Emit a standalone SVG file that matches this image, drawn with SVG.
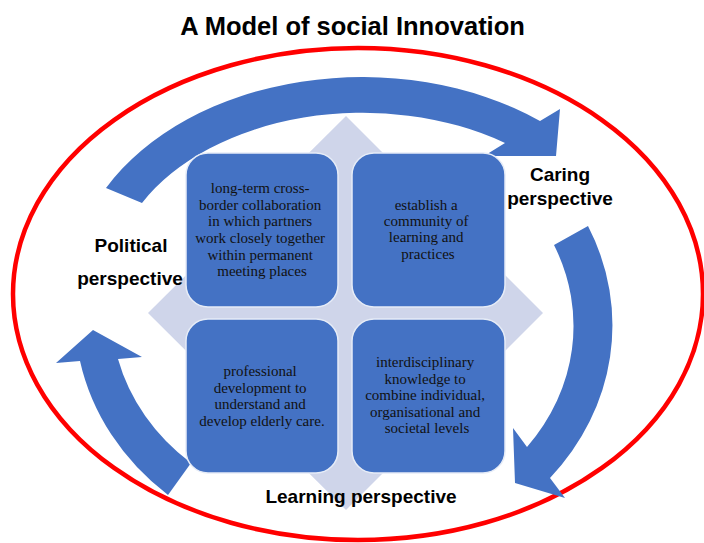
<svg xmlns="http://www.w3.org/2000/svg" width="704" height="543" viewBox="0 0 704 543">
  <style>
    .title { font-family: "Liberation Sans", Arial, sans-serif; font-weight: bold; font-size: 25.5px; fill: #000; text-anchor: middle; }
    .label { font-family: "Liberation Sans", Arial, sans-serif; font-weight: bold; font-size: 19px; fill: #000; text-anchor: middle; }
    .box { fill: #4472C4; stroke: #E6ECF7; stroke-width: 1.5; }
    .boxtext { font-family: "Liberation Serif", "Times New Roman", serif; font-size: 15px; fill: #111111; text-anchor: middle; }
    .arrow { fill: #4472C4; stroke: none; }
  </style>

  <rect x="0" y="0" width="704" height="543" fill="#FFFFFF"/>

  <g id="title">
    <text class="title" x="352.5" y="35">A Model of social Innovation</text>
  </g>

  <g id="frame">
    <ellipse cx="358" cy="294" rx="345" ry="246" fill="none" stroke="#FF0000" stroke-width="4.5"/>
  </g>

  <g id="diamond">
    <polygon points="346,116 543,313 346,510 148,313" fill="#CFD5EA"/>
  </g>

  <g id="connectors">
    <!-- top arrow: political -> caring -->
    <path class="arrow" d="M106,188 A290,209 0 0 1 540,121 L560,109 L556,156 L484,156 L505,143 A250,170 0 0 0 142,203 Z"/>
    <!-- right arrow: caring -> learning -->
    <path class="arrow" d="M588,226 A268,238 0 0 1 550,478 L565,498 L515,483 L513,428 L527,447 A228,200 0 0 0 554,245 Z"/>
    <!-- left arrow: learning -> political -->
    <path class="arrow" d="M168,495 A268,238 0 0 1 80,361 L56,363 L93,330 L142,357 L118,359 A228,200 0 0 0 191,463 Z"/>
  </g>

  <g id="box-top-left">
    <rect class="box" x="186" y="153" width="152" height="154" rx="22" ry="22"/>
    <text class="boxtext" x="262" y="193">
      <tspan x="262" y="193">long-term cross-</tspan>
      <tspan x="262" y="210">border collaboration</tspan>
      <tspan x="262" y="226">in which partners</tspan>
      <tspan x="262" y="243">work closely together</tspan>
      <tspan x="262" y="260">within permanent</tspan>
      <tspan x="262" y="276">meeting places</tspan>
    </text>
  </g>

  <g id="box-top-right">
    <rect class="box" x="352" y="153" width="153" height="154" rx="22" ry="22"/>
    <text class="boxtext" x="428" y="210">
      <tspan x="428" y="210">establish a</tspan>
      <tspan x="428" y="226">community of</tspan>
      <tspan x="428" y="242">learning and</tspan>
      <tspan x="428" y="259">practices</tspan>
    </text>
  </g>

  <g id="box-bottom-left">
    <rect class="box" x="186" y="319" width="152" height="154" rx="22" ry="22"/>
    <text class="boxtext" x="262" y="376">
      <tspan x="262" y="376">professional</tspan>
      <tspan x="262" y="393">development to</tspan>
      <tspan x="262" y="409">understand and</tspan>
      <tspan x="262" y="426">develop elderly care.</tspan>
    </text>
  </g>

  <g id="box-bottom-right">
    <rect class="box" x="352" y="319" width="153" height="154" rx="22" ry="22"/>
    <text class="boxtext" x="427" y="367">
      <tspan x="427" y="367">interdisciplinary</tspan>
      <tspan x="427" y="384">knowledge to</tspan>
      <tspan x="427" y="400">combine individual,</tspan>
      <tspan x="427" y="417">organisational and</tspan>
      <tspan x="427" y="433">societal levels</tspan>
    </text>
  </g>

  <g id="label-political">
    <text class="label" x="131" y="252">Political</text>
    <text class="label" x="130" y="285">perspective</text>
  </g>

  <g id="label-caring">
    <text class="label" x="560" y="181">Caring</text>
    <text class="label" x="560" y="205">perspective</text>
  </g>

  <g id="label-learning">
    <text class="label" x="361" y="503">Learning perspective</text>
  </g>
</svg>
